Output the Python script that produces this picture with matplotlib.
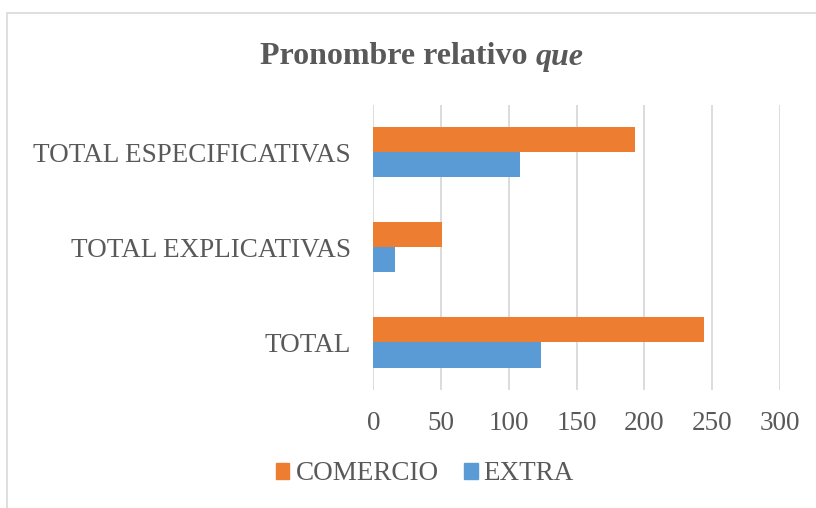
import matplotlib
matplotlib.use("Agg")
import matplotlib.pyplot as plt
from matplotlib.patches import Patch, Rectangle

plt.rcParams['font.family'] = ['Liberation Serif', 'DejaVu Serif']

categories = ["TOTAL", "TOTAL EXPLICATIVAS", "TOTAL ESPECIFICATIVAS"]
comercio = [244, 51, 193]
extra = [124, 16, 108]
xticks = [0, 50, 100, 150, 200, 250, 300]

TXT = '#595959'
ORANGE = '#ED7D31'
BLUE = '#5B9BD5'
GRID = '#D9D9D9'

W, H = 816, 508
fig = plt.figure(figsize=(W/100, H/100), dpi=100)
left, right = 373.3/W, 779.8/W
top, bottom = 1-104.5/H, 1-390/H
ax = fig.add_axes([left, bottom, right-left, top-bottom])

pos = list(range(len(categories)))
h = 0.265
ax.barh([p + h/2 for p in pos], comercio, height=h, color=ORANGE, label='COMERCIO', zorder=3)
ax.barh([p - h/2 for p in pos], extra, height=h, color=BLUE, label='EXTRA', zorder=3)

ax.set_xlim(0, 300)
ax.set_ylim(-0.5, len(categories)-0.5)
ax.set_xticks(xticks)
ax.set_xticklabels([str(x) for x in xticks])
ax.set_yticks(pos)
ax.set_yticklabels(categories)
ax.tick_params(axis='both', length=0, labelsize=19.5, colors=TXT)
ax.tick_params(axis='y', pad=16)
ax.tick_params(axis='x', pad=15)
ax.grid(axis='x', color=GRID, linewidth=1.3, zorder=0)
for s in ax.spines.values():
    s.set_visible(False)

# Title in two parts: bold regular + bold italic "que"
fig.canvas.draw()
renderer = fig.canvas.get_renderer()
ty = 1-57/H
t1 = fig.text(0, ty, "Pronombre relativo ", ha='left', va='center', fontsize=23,
              fontweight='bold', color=TXT)
t2 = fig.text(0, ty, "que", ha='left', va='center', fontsize=23, fontweight='bold',
              fontstyle='italic', color=TXT)
w1 = t1.get_window_extent(renderer).width
w2 = t2.get_window_extent(renderer).width
cx = 421.5
x0 = cx - (w1 + w2) / 2
t1.set_x(x0 / W)
t2.set_x((x0 + w1) / W)

handles = [Patch(color=ORANGE), Patch(color=BLUE)]
fig.legend(handles, ['COMERCIO', 'EXTRA'], loc='center', bbox_to_anchor=(425/W, 1-474/H),
           ncol=2, frameon=False, fontsize=19.5, labelcolor=TXT, handlelength=0.5,
           handleheight=0.5, handletextpad=0.22, columnspacing=0.95)

fig.add_artist(Rectangle((7/W, -0.1), 1.1, 1-13/H+0.1, fill=False, edgecolor=GRID,
                         linewidth=1.2, transform=fig.transFigure))

fig.savefig('out.png', dpi=100)
